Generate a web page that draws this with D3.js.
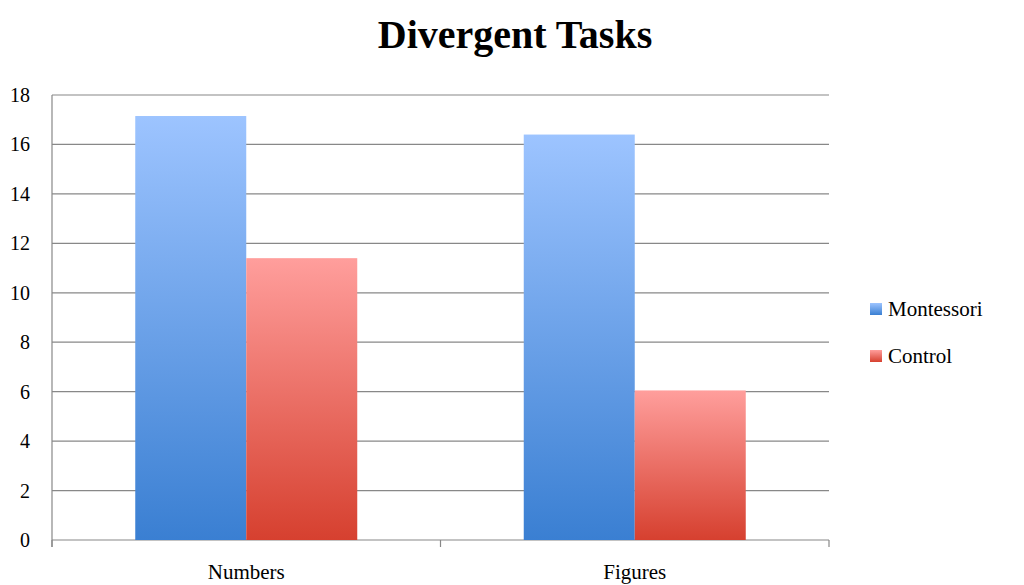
<!DOCTYPE html>
<html><head><meta charset="utf-8">
<script src="https://cdn.jsdelivr.net/npm/d3@7"></script>
<style>body{margin:0;background:#fff}</style></head>
<body><svg id="c" width="1024" height="585"></svg>
<script>
const categories = ["Numbers", "Figures"];
const seriesNames = ["Montessori", "Control"];
const montessori = [17.15, 16.4];
const control = [11.4, 6.05];
const yTicks = [0, 2, 4, 6, 8, 10, 12, 14, 16, 18];

const svg = d3.select("#c");
const font = "Liberation Serif, serif";
const L = 52, R = 829, T = 95, B = 540;
const x = d3.scaleBand().domain(categories).range([L, R]);
const y = d3.scaleLinear().domain([0, 18]).range([B, T]);
const barW = 111;
const defs = svg.append("defs");
const grads = [["gM", "#9dc4ff", "#3a7fd2"], ["gC", "#ff9e9c", "#d6402f"]];
grads.forEach(([id, a, b]) => {
  const g = defs.append("linearGradient").attr("id", id).attr("x1", 0).attr("y1", 0).attr("x2", 0).attr("y2", 1);
  g.append("stop").attr("offset", "0%").attr("stop-color", a);
  g.append("stop").attr("offset", "100%").attr("stop-color", b);
});
// grid
svg.selectAll(".g").data(yTicks).enter().append("line")
  .attr("x1", L).attr("x2", R).attr("y1", d => y(d)).attr("y2", d => y(d))
  .attr("stroke", "#888").attr("stroke-width", 1.2);
svg.append("line").attr("x1", L).attr("x2", L).attr("y1", T).attr("y2", B + 7).attr("stroke", "#888").attr("stroke-width", 1.2);
// x ticks
[L, L + x.bandwidth(), R].forEach(v => svg.append("line").attr("x1", v).attr("x2", v).attr("y1", B).attr("y2", B + 7).attr("stroke", "#888").attr("stroke-width", 1.2));
svg.selectAll(".yt").data(yTicks).enter().append("text")
  .attr("x", 30).attr("y", d => y(d) + 7).attr("text-anchor", "end")
  .attr("font-family", font).attr("font-size", 20).text(d => d);
svg.selectAll(".xt").data(categories).enter().append("text")
  .attr("x", d => x(d) + x.bandwidth() / 2).attr("y", 579).attr("text-anchor", "middle")
  .attr("font-family", font).attr("font-size", 21).text(d => d);
// bars
[[montessori, "gM", -1], [control, "gC", 0]].forEach(([vals, g, off]) => {
  svg.selectAll(null).data(categories).enter().append("rect")
    .attr("x", d => x(d) + x.bandwidth() / 2 + off * barW)
    .attr("width", barW)
    .attr("y", (d, i) => y(vals[i]))
    .attr("height", (d, i) => B - y(vals[i]))
    .attr("fill", `url(#${g})`);
});
svg.append("text").attr("x", 515).attr("y", 48).attr("text-anchor", "middle")
  .attr("font-family", font).attr("font-weight", "bold").attr("font-size", 40).text("Divergent Tasks");
// legend
seriesNames.forEach((s, i) => {
  const yy = 309 + i * 47;
  svg.append("rect").attr("x", 870).attr("y", yy - 6).attr("width", 12).attr("height", 12).attr("fill", `url(#${grads[i][0]})`);
  svg.append("text").attr("x", 888).attr("y", yy + 7).attr("font-family", font).attr("font-size", 21).text(s);
});
</script></body></html>
